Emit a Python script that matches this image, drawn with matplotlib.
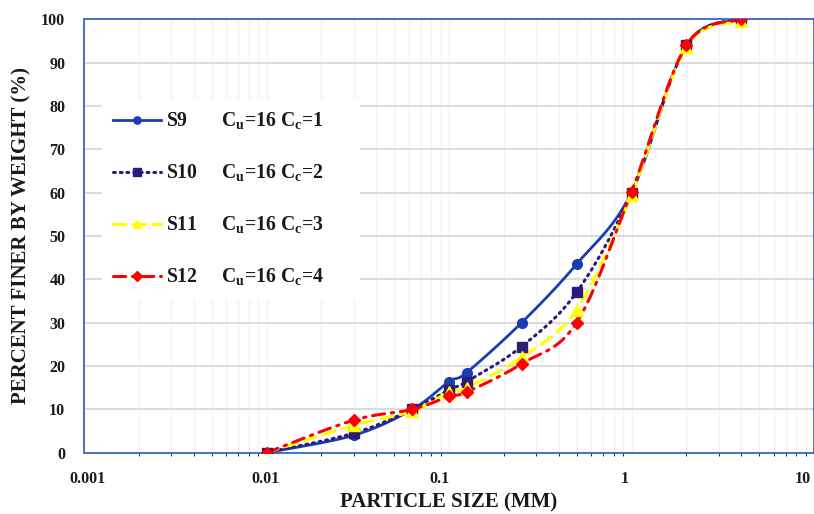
import numpy as np
import matplotlib
matplotlib.use("Agg")
import matplotlib.pyplot as plt
import matplotlib.transforms as mtransforms

plt.rcParams['font.family'] = ['Liberation Serif', 'DejaVu Serif']
plt.rcParams['font.weight'] = 'bold'
plt.rcParams['mathtext.fontset'] = 'custom'
plt.rcParams['mathtext.rm'] = 'Liberation Serif:bold'
plt.rcParams['mathtext.bf'] = 'Liberation Serif:bold'

# particle sizes (mm) and percent finer
size = [0.01, 0.03, 0.063, 0.1, 0.125, 0.25, 0.5, 1, 2, 4]
s9 = [0, 4, 10, 16.4, 18.5, 30, 43.5, 60, 94, 100]
s10 = [0, 4.5, 10, 14.5, 16.4, 24.5, 37, 60, 94, 100]
s11 = [0, 6.3, 9.6, 14, 15, 22, 33, 59.5, 93.6, 99.6]
s12 = [0, 7.5, 10, 13, 14, 20.5, 30, 60.2, 94, 100]

names = ['S9', 'S10', 'S11', 'S12']
cc_vals = [1, 2, 3, 4]
cu_val = 16

xticks = [0.001, 0.01, 0.1, 1, 10]
xticklabels = ['0.001', '0.01', '0.1', '1', '10']
yticks = list(range(0, 101, 10))


def smooth(x, y, n=30):
    # Excel style smoothed line: Catmull-Rom bezier in screen (log x) space
    pts = np.column_stack([np.log10(x), y])
    P = np.vstack([pts[0], pts, pts[-1]])
    t = np.linspace(0, 1, n)[:, None]
    out = []
    for i in range(1, len(P) - 2):
        p0, p1, p2, p3 = P[i - 1], P[i], P[i + 1], P[i + 2]
        c1 = p1 + (p2 - p0) / 6
        c2 = p2 - (p3 - p1) / 6
        b = (1 - t) ** 3 * p1 + 3 * (1 - t) ** 2 * t * c1 + 3 * (1 - t) * t ** 2 * c2 + t ** 3 * p2
        out.append(b if i == 1 else b[1:])
    out = np.vstack(out)
    return 10 ** out[:, 0], out[:, 1]


fig = plt.figure(figsize=(8.14, 5.14), dpi=100)
ax = fig.add_axes([84 / 814, 1 - 452.7 / 514, 730 / 814, 433.4 / 514])

styles = [
    dict(color='#1A3DB0', ls='-', lw=2.0, marker='o', ms=7),
    dict(color='#2E1A78', ls=(0, (0.6, 1.6)), lw=2.2, marker='s', ms=7.5),
    dict(color='#FFFF00', ls=(0, (4, 2.5)), lw=2.2, marker='^', ms=8),
    dict(color='#FF0000', ls=(0, (4, 2.2, 0.8, 2.2)), lw=2.2, marker='D', ms=6.5),
]
series = [s9, s10, s11, s12]

handles = []
for vals, st in zip(series, styles):
    sx, sy = smooth(size, vals)
    ax.plot(sx, sy, color=st['color'], ls=st['ls'], lw=st['lw'],
            dash_capstyle='round', solid_capstyle='round', zorder=3)
    ax.plot(size, vals, ls='none', marker=st['marker'], ms=st['ms'],
            color=st['color'], mec=st['color'], zorder=4)
    h, = ax.plot([], [], color=st['color'], ls=st['ls'], lw=st['lw'],
                 marker=st['marker'], ms=st['ms'] * 0.75, dash_capstyle='round')
    handles.append(h)

labels = []
for nm, cc in zip(names, cc_vals):
    gap = ' ' * (7 if len(nm) == 2 else 5)
    labels.append(nm + gap + r'C$_\mathregular{u}$=' + str(cu_val) +
                  r' C$_\mathregular{c}$=' + str(cc) + '      ')

ax.set_xscale('log')
ax.set_xlim(0.001, 10)
ax.set_ylim(0, 100)
ax.set_xticks(xticks)
ax.set_xticklabels(xticklabels)
ax.set_yticks(yticks)
ax.tick_params(axis='both', length=0, labelsize=11.5, colors='#1a1a1a')
ax.tick_params(axis='y', pad=13.5)
ax.tick_params(axis='x', pad=13)

ax.grid(True, which='major', axis='y', color='#D9D9D9', lw=1.3, zorder=0)
ax.grid(True, which='both', axis='x', color='#F2F2F2', lw=1.0, zorder=0)
ax.set_axisbelow(True)
for sp in ax.spines.values():
    sp.set_color('#4472C4')
    sp.set_linewidth(1.4)

# shift x tick labels as in the reference
offsets = [3.5, -1.5, -9, -6.5, -11]
for lab, dx in zip(ax.get_xticklabels(), offsets):
    lab.set_transform(lab.get_transform() +
                      mtransforms.ScaledTranslation(dx / 100, 0, fig.dpi_scale_trans))

ax.set_xlabel('PARTICLE SIZE (MM)', fontsize=15, fontweight='bold', color='#1a1a1a')
ax.set_ylabel('PERCENT FINER BY WEIGHT (%)', fontsize=15, fontweight='bold', color='#1a1a1a')
ax.xaxis.set_label_coords(0.5, -0.092)
ax.yaxis.set_label_coords(-0.072, 0.5)

leg = ax.legend(handles, labels, loc='center left', bbox_to_anchor=(0.024, 0.584),
                frameon=True, facecolor='white', edgecolor='none', framealpha=1,
                fontsize=14.2, handlelength=2.4, handletextpad=0.25, labelspacing=1.55,
                borderpad=0.6, borderaxespad=0, numpoints=1)
for t in leg.get_texts():
    t.set_color('#1a1a1a')
leg.set_zorder(5)

fig.savefig('out.png', dpi=100)
